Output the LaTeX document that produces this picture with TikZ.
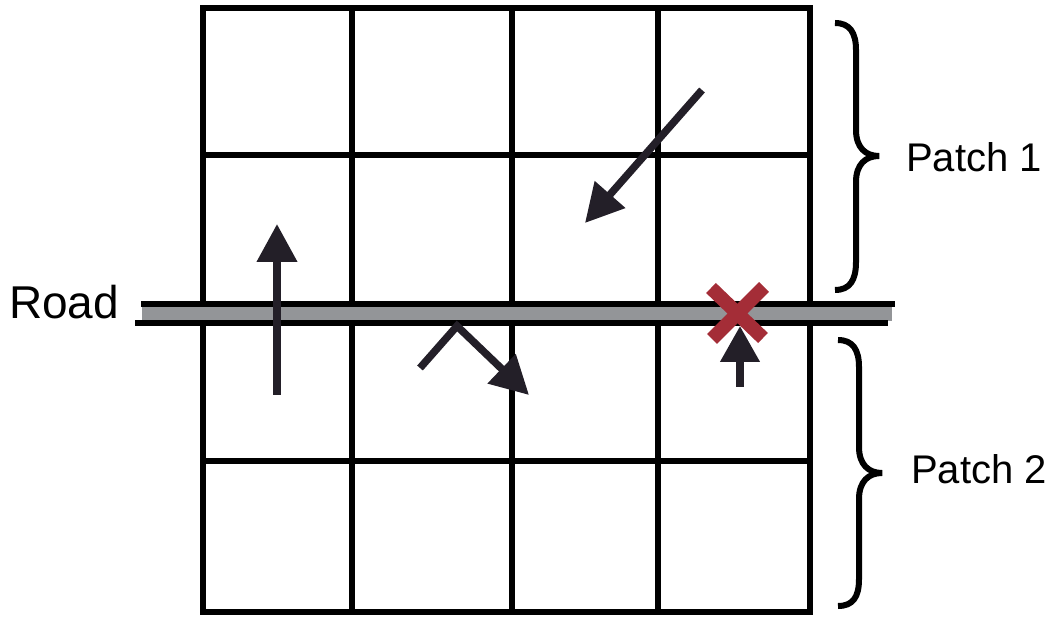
\documentclass[tikz,border=0pt]{standalone}
\usepackage{fontspec}
\setmainfont{Liberation Sans}
\usetikzlibrary{arrows.meta,calc}
\definecolor{arrowink}{RGB}{35,31,40}
\definecolor{roadgray}{RGB}{147,149,152}
\definecolor{xred}{RGB}{164,45,55}
\begin{document}
\begin{tikzpicture}[x=1pt,y=-1pt,
  gridline/.style={line width=6pt,black},
  roadline/.style={line width=6pt,black},
  mover/.style={line width=7.5pt,arrowink,-{Triangle[length=38pt,width=39pt]}},
  bracepath/.style={line width=6pt,black},
  lbl/.style={inner sep=0pt,anchor=base west,font=\fontsize{40}{46}\selectfont}]
\useasboundingbox (0,0) rectangle (1052,617);
% grid
\draw[gridline] (203,8) rectangle (810,612);
\foreach \xx in {352,512,658} \draw[gridline] (\xx,8) -- (\xx,612);
\foreach \yy in {155,461} \draw[gridline] (203,\yy) -- (810,\yy);
% road
\fill[roadgray] (142,306) rectangle (892,321);
\draw[roadline] (141,304) -- (895,304);
\draw[roadline] (135,323) -- (888,323);
% arrows
\coordinate (a1s) at (277,395);
\coordinate (a1t) at (277,224);
\draw[mover] (a1s) -- (a1t);
\coordinate (a2s) at (702,90);
\coordinate (a2t) at (585,223);
\draw[mover] (a2s) -- (a2t);
\coordinate (a3s) at (420,368);
\coordinate (a3m) at (457,326);
\coordinate (a3t) at (529,395);
\draw[mover,line join=miter] (a3s) -- (a3m) -- (a3t);
% red cross
\coordinate (xc) at (737,313);
\draw[xred,line width=14pt] ($(xc)+(-26,-25)$) -- ($(xc)+(26,25)$);
\draw[xred,line width=14pt] ($(xc)+(27,-26)$) -- ($(xc)+(-25,26)$);
\coordinate (a4s) at (740,387);
\coordinate (a4t) at (740,326);
\draw[mover,-{Triangle[length=36pt,width=38pt]}] (a4s) -- (a4t);
% braces
\draw[bracepath] (835,23) .. controls (850,23) and (856,33) .. (856,50) -- (856,130)
  .. controls (856,148) and (866,156) .. (879,156)
  .. controls (866,156) and (856,164) .. (856,182) -- (856,262)
  .. controls (856,280) and (850,290) .. (835,290);
\draw[bracepath] (838,340) .. controls (853,340) and (859,350) .. (859,367) -- (859,447)
  .. controls (859,465) and (869,473) .. (882,473)
  .. controls (869,473) and (859,481) .. (859,499) -- (859,579)
  .. controls (859,597) and (853,606) .. (838,606);
% labels
\node[lbl] (p1) at (906,172) {Patch 1};
\node[lbl] (p2) at (911,483) {Patch 2};
\node[lbl,font=\fontsize{46}{52}\selectfont] (road) at (9,319) {Road};
\end{tikzpicture}
\end{document}
